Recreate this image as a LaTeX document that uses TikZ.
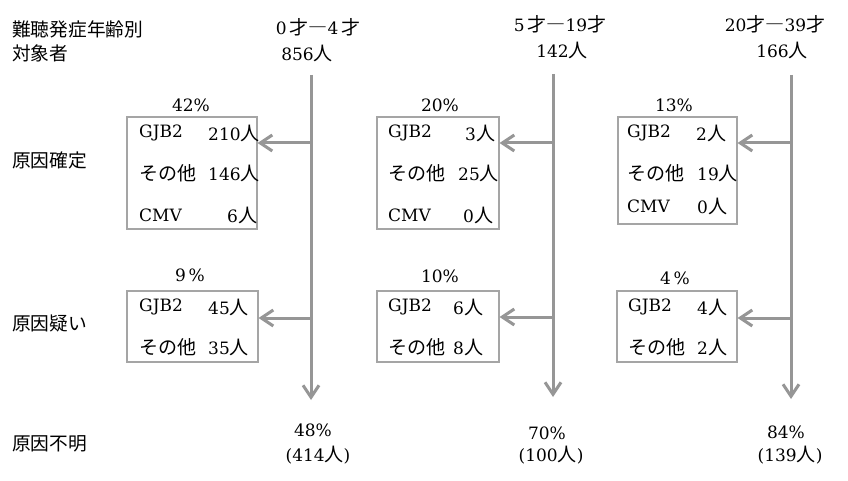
\documentclass[tikz,border=0pt]{standalone}
\usepackage{fontspec}
\usetikzlibrary{arrows.meta}
\setmainfont{DejaVu Serif}
\newfontfamily\jp{Noto Sans CJK JP}[Scale=1.12]
\definecolor{lineGray}{RGB}{150,150,150}
\definecolor{boxGray}{RGB}{165,165,165}

\begin{document}
\begin{tikzpicture}[x=1pt, y=-1pt, font=\fontsize{17}{20}\selectfont,
  box/.style={draw=boxGray, line width=1.2pt, inner sep=0pt},
  rowlabel/.style={anchor=west, inner sep=0pt, font=\fontsize{16.7}{20}\selectfont\jp},
  item/.style={anchor=west, inner sep=0pt},
  flow/.style={draw=lineGray, line width=3pt, -{Straight Barb[length=12pt, width=16pt]}}]

\useasboundingbox (0,0) rectangle (848,481);

\node[rowlabel] (onset) at (12,29) {難聴発症年齢別};
\node[rowlabel] (target) at (12,53) {対象者};
\node[rowlabel] (sure) at (12,160) {原因確定};
\node[rowlabel] (suspect) at (12,323) {原因疑い};
\node[rowlabel] (unknown) at (12,444) {原因不明};

% 0-4
\node (age1) at (318,27) {0\,{\jp 才―}4\,{\jp 才}};
\node (total1) at (307,53) {856{\jp 人}};
\node (pctA1) at (191,105) {42\%};
\node[box, minimum width=130pt, minimum height=112pt] (causeA1) at (192,173) {};
\node[item] (gA1) at (139,133) {GJB2};
\node[item] (gnA1) at (208,133) {210{\jp 人}};
\node[item] (oA1) at (139,173) {\jp その他};
\node[item] (onA1) at (208,173) {146{\jp 人}};
\node[item] (cA1) at (139,215) {CMV};
\node[item] (cnA1) at (227,215) {6{\jp 人}};
\node (pctB1) at (190,275) {9\,\%};
\node[box, minimum width=131pt, minimum height=71pt] (causeB1) at (192.5,326.5) {};
\node[item] (gB1) at (139,307) {GJB2};
\node[item] (gnB1) at (208,307) {45{\jp 人}};
\node[item] (oB1) at (139,347) {\jp その他};
\node[item] (onB1) at (208,347) {35{\jp 人}};
\node (rest1) at (313,430) {48\%};
\node (restn1) at (318,455) {(414{\jp 人})};

% 5-19
\node (age2) at (560,24) {5\,{\jp 才―}19{\jp 才}};
\node (total2) at (562,50) {142{\jp 人}};
\node (pctA2) at (440,105) {20\%};
\node[box, minimum width=122pt, minimum height=112pt] (causeA2) at (438,173) {};
\node[item] (gA2) at (388,133) {GJB2};
\node[item] (gnA2) at (465,133) {3{\jp 人}};
\node[item] (oA2) at (388,173) {\jp その他};
\node[item] (onA2) at (458,173) {25{\jp 人}};
\node[item] (cA2) at (388,215) {CMV};
\node[item] (cnA2) at (463,215) {0{\jp 人}};
\node (pctB2) at (440,276) {10\%};
\node[box, minimum width=122pt, minimum height=71pt] (causeB2) at (438,326.5) {};
\node[item] (gB2) at (388,307) {GJB2};
\node[item] (gnB2) at (453,307) {6{\jp 人}};
\node[item] (oB2) at (388,347) {\jp その他};
\node[item] (onB2) at (453,347) {8{\jp 人}};
\node (rest2) at (547,433) {70\%};
\node (restn2) at (551,455) {(100{\jp 人})};

% 20-39
\node (age3) at (775,24) {20{\jp 才―}39{\jp 才}};
\node (total3) at (782,50) {166{\jp 人}};
\node (pctA3) at (674,105) {13\%};
\node[box, minimum width=119pt, minimum height=107pt] (causeA3) at (677.5,170.5) {};
\node[item] (gA3) at (627,133) {GJB2};
\node[item] (gnA3) at (696,133) {2{\jp 人}};
\node[item] (oA3) at (627,173) {\jp その他};
\node[item] (onA3) at (697,173) {19{\jp 人}};
\node[item] (cA3) at (627,206) {CMV};
\node[item] (cnA3) at (697,206) {0{\jp 人}};
\node (pctB3) at (675,278) {4\,\%};
\node[box, minimum width=120pt, minimum height=71pt] (causeB3) at (677,326.5) {};
\node[item] (gB3) at (628,307) {GJB2};
\node[item] (gnB3) at (697,307) {4{\jp 人}};
\node[item] (oB3) at (628,347) {\jp その他};
\node[item] (onB3) at (697,347) {2{\jp 人}};
\node (rest3) at (786,432) {84\%};
\node (restn3) at (790,455) {(139{\jp 人})};

\coordinate (top1) at (311,75);
\coordinate (end1) at (311,400);
\coordinate (forkA1) at (311,143);
\coordinate (forkB1) at (311,318);
\coordinate (top2) at (553,74);
\coordinate (end2) at (553,397);
\coordinate (forkA2) at (553,143);
\coordinate (forkB2) at (553,317);
\coordinate (top3) at (791,75);
\coordinate (end3) at (791,399);
\coordinate (forkA3) at (791,143);
\coordinate (forkB3) at (791,318);

\draw[flow] (top1) -- (end1);
\draw[flow] (forkA1) -- (causeA1.east |- forkA1);
\draw[flow] (forkB1) -- (causeB1.east |- forkB1);
\draw[flow] (top2) -- (end2);
\draw[flow] (forkA2) -- (causeA2.east |- forkA2);
\draw[flow] (forkB2) -- (causeB2.east |- forkB2);
\draw[flow] (top3) -- (end3);
\draw[flow] (forkA3) -- (causeA3.east |- forkA3);
\draw[flow] (forkB3) -- (causeB3.east |- forkB3);
\end{tikzpicture}
\end{document}
